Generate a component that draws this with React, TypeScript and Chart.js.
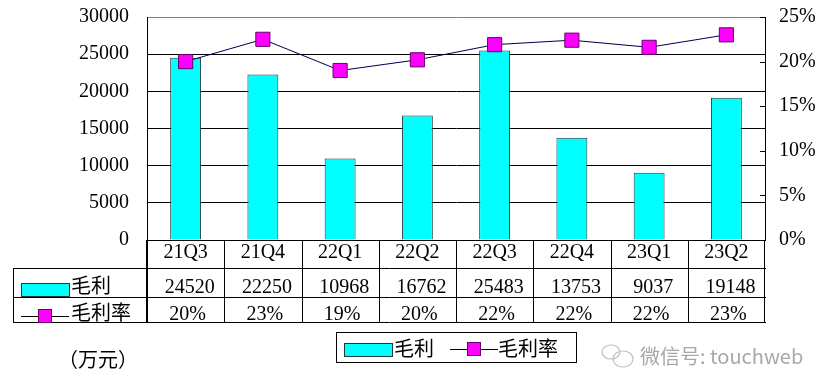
import React, { useEffect, useRef } from 'react';
import { Chart, registerables } from 'chart.js';

Chart.register(...registerables);

const categories = ['21Q3', '21Q4', '22Q1', '22Q2', '22Q3', '22Q4', '23Q1', '23Q2'];
const grossProfit = [24520, 22250, 10968, 16762, 25483, 13753, 9037, 19148];
const grossMargin = [20.0, 22.5, 19.0, 20.2, 21.9, 22.4, 21.6, 23.0];
const seriesNames = ['毛利', '毛利率'];
const unitLabel = '（万元）';
const watermark = '微信号: touchweb';

const SERIF = "'Liberation Serif', 'Noto Sans CJK SC', serif";
const CJK = "'Noto Sans CJK SC', sans-serif";
const CYAN = '#00FFFF';
const BAR_BORDER = '#203838';
const MAGENTA = '#FF00FF';
const MARKER_BORDER = '#660066';
const LINE_COLOR = '#000050';

function hline(ctx: CanvasRenderingContext2D, x1: number, x2: number, y: number) {
  ctx.beginPath();
  ctx.moveTo(x1, Math.round(y) + 0.5);
  ctx.lineTo(x2, Math.round(y) + 0.5);
  ctx.stroke();
}
function vline(ctx: CanvasRenderingContext2D, x: number, y1: number, y2: number) {
  ctx.beginPath();
  ctx.moveTo(Math.round(x) + 0.5, y1);
  ctx.lineTo(Math.round(x) + 0.5, y2);
  ctx.stroke();
}

function drawBarSwatch(ctx: CanvasRenderingContext2D, x: number, y: number, w: number, h: number) {
  ctx.fillStyle = CYAN;
  ctx.fillRect(x, y, w, h);
  ctx.strokeStyle = BAR_BORDER;
  ctx.lineWidth = 1;
  ctx.strokeRect(x + 0.5, y + 0.5, w, h);
}
function drawLineSwatch(ctx: CanvasRenderingContext2D, x: number, y: number, w: number) {
  ctx.strokeStyle = '#000';
  ctx.lineWidth = 1;
  hline(ctx, x, x + w, y);
  const cx = x + w / 2;
  ctx.fillStyle = MAGENTA;
  ctx.fillRect(cx - 7, y - 7, 14, 14);
  ctx.strokeStyle = MARKER_BORDER;
  ctx.strokeRect(cx - 7 + 0.5, y - 7 + 0.5, 13, 13);
}

const tablePlugin = {
  id: 'tableLegend',
  beforeDraw(chart: any) {
    const ctx = chart.ctx;
    ctx.save();
    ctx.fillStyle = '#fff';
    ctx.fillRect(0, 0, chart.width, chart.height);
    ctx.restore();
  },
  afterDraw(chart: any) {
    const ctx: CanvasRenderingContext2D = chart.ctx;
    const xs = chart.scales.x;
    const y1 = chart.scales.y1;
    const { left, right, bottom } = chart.chartArea;
    const rowTop = 268;
    const rowMid = 297;
    const rowBot = 322;
    const tableLeft = 13;
    ctx.save();
    ctx.strokeStyle = '#000';
    ctx.lineWidth = 1;

    // right axis inward tick marks
    y1.ticks.forEach((t: any) => {
      const yy = y1.getPixelForValue(t.value);
      ctx.beginPath();
      ctx.moveTo(right - 5, Math.round(yy) + 0.5);
      ctx.lineTo(right, Math.round(yy) + 0.5);
      ctx.stroke();
    });

    // table grid
    hline(ctx, tableLeft, right + 1, rowTop);
    hline(ctx, tableLeft, right + 1, rowMid);
    hline(ctx, tableLeft, right + 1, rowBot);
    vline(ctx, tableLeft, rowTop, rowBot + 1);
    const step = xs.getPixelForValue(1) - xs.getPixelForValue(0);
    for (let i = 0; i <= categories.length; i++) {
      const bx = xs.getPixelForValue(0) - step / 2 + i * step;
      vline(ctx, i === categories.length ? right - 1 : bx, bottom, rowBot + 1);
    }
    vline(ctx, left - 1, bottom, rowBot + 1);

    // row headers
    drawBarSwatch(ctx, 21, 283, 48, 13);
    drawLineSwatch(ctx, 21, 316, 48);
    ctx.fillStyle = '#000';
    ctx.font = `20px ${CJK}`;
    ctx.textAlign = 'left';
    ctx.textBaseline = 'alphabetic';
    ctx.fillText(seriesNames[0], 71, 293);
    ctx.fillText(seriesNames[1], 71, 320);

    // values
    ctx.font = `20px ${SERIF}`;
    ctx.textAlign = 'center';
    categories.forEach((_, i) => {
      const cx = xs.getPixelForValue(i);
      ctx.fillText(String(grossProfit[i]), cx + 4, 293);
      ctx.fillText(Math.round(grossMargin[i]) + '%', cx + 2, 320);
    });

    // unit label
    ctx.font = `20px ${CJK}`;
    ctx.textAlign = 'left';
    ctx.fillText(unitLabel, 58, 367);

    // legend box
    ctx.strokeStyle = '#000';
    ctx.strokeRect(336.5, 332.5, 240, 30);
    drawBarSwatch(ctx, 344, 343, 48, 13);
    ctx.fillStyle = '#000';
    ctx.font = `20px ${CJK}`;
    ctx.fillText(seriesNames[0], 394, 356);
    drawLineSwatch(ctx, 450, 349, 48);
    ctx.fillStyle = '#000';
    ctx.font = `20px ${CJK}`;
    ctx.fillText(seriesNames[1], 498, 356);

    // watermark
    ctx.strokeStyle = '#c0c0c0';
    ctx.lineWidth = 1.2;
    ctx.beginPath();
    ctx.ellipse(611, 352, 9, 7, 0, 0, Math.PI * 2);
    ctx.stroke();
    ctx.beginPath();
    ctx.ellipse(623, 359, 10, 8, 0, 0, Math.PI * 2);
    ctx.stroke();
    ctx.fillStyle = '#a8a8a8';
    ctx.font = `20px ${CJK}`;
    ctx.fillText(watermark, 640, 364);
    ctx.restore();
  },
};

export default function App() {
  const ref = useRef<HTMLCanvasElement | null>(null);
  useEffect(() => {
    if (!ref.current) return;
    const chart = new Chart(ref.current, {
      type: 'bar',
      data: {
        labels: categories,
        datasets: [
          {
            type: 'line',
            label: seriesNames[1],
            data: grossMargin,
            yAxisID: 'y1',
            borderColor: LINE_COLOR,
            borderWidth: 1,
            pointStyle: 'rect',
            pointRadius: 10,
            pointBackgroundColor: MAGENTA,
            pointBorderColor: MARKER_BORDER,
            pointBorderWidth: 1,
            tension: 0,
            order: 0,
          } as any,
          {
            type: 'bar',
            label: seriesNames[0],
            data: grossProfit,
            yAxisID: 'y',
            backgroundColor: CYAN,
            borderColor: BAR_BORDER,
            borderWidth: 1,
            barPercentage: 0.4,
            categoryPercentage: 1,
            order: 1,
          } as any,
        ],
      },
      options: {
        responsive: false,
        animation: false,
        devicePixelRatio: 1,
        layout: { padding: { top: 17, left: 0, right: 0, bottom: 0 } },
        plugins: { legend: { display: false }, tooltip: { enabled: false } },
        scales: {
          x: {
            grid: { display: false, drawTicks: false },
            border: { display: true, color: '#000', width: 1 },
            ticks: { color: '#000', font: { family: SERIF, size: 20 }, padding: 1, maxRotation: 0 },
            afterFit: (s: any) => { s.height = 152; s.paddingLeft = 0; s.paddingRight = 0; },
          },
          y: {
            position: 'left',
            min: 0,
            max: 30000,
            grid: {
              drawTicks: false,
              color: (c: any) => (c.tick && c.tick.value === 30000 ? '#808080' : '#000'),
              lineWidth: 1,
            },
            border: { display: true, color: '#000', width: 1 },
            ticks: {
              stepSize: 5000,
              color: '#000',
              font: { family: SERIF, size: 20 },
              padding: 18,
              callback: (v: any) => String(v),
            },
            afterFit: (s: any) => { s.width = 147; s.paddingTop = 0; s.paddingBottom = 0; },
          },
          y1: {
            position: 'right',
            min: 0,
            max: 25,
            grid: { display: false, drawTicks: false },
            border: { display: true, color: '#000', width: 1 },
            ticks: {
              stepSize: 5,
              color: '#000',
              font: { family: SERIF, size: 20 },
              padding: 14,
              callback: (v: any) => v + '%',
            },
            afterFit: (s: any) => { s.width = 63; s.paddingTop = 0; s.paddingBottom = 0; },
          },
        },
      },
      plugins: [tablePlugin],
    });
    return () => chart.destroy();
  }, []);
  return (
    <div style={{ position: 'fixed', left: 0, top: 0, width: 828, height: 392, background: '#fff' }}>
      <canvas ref={ref} width={828} height={392} style={{ display: 'block' }} />
    </div>
  );
}
